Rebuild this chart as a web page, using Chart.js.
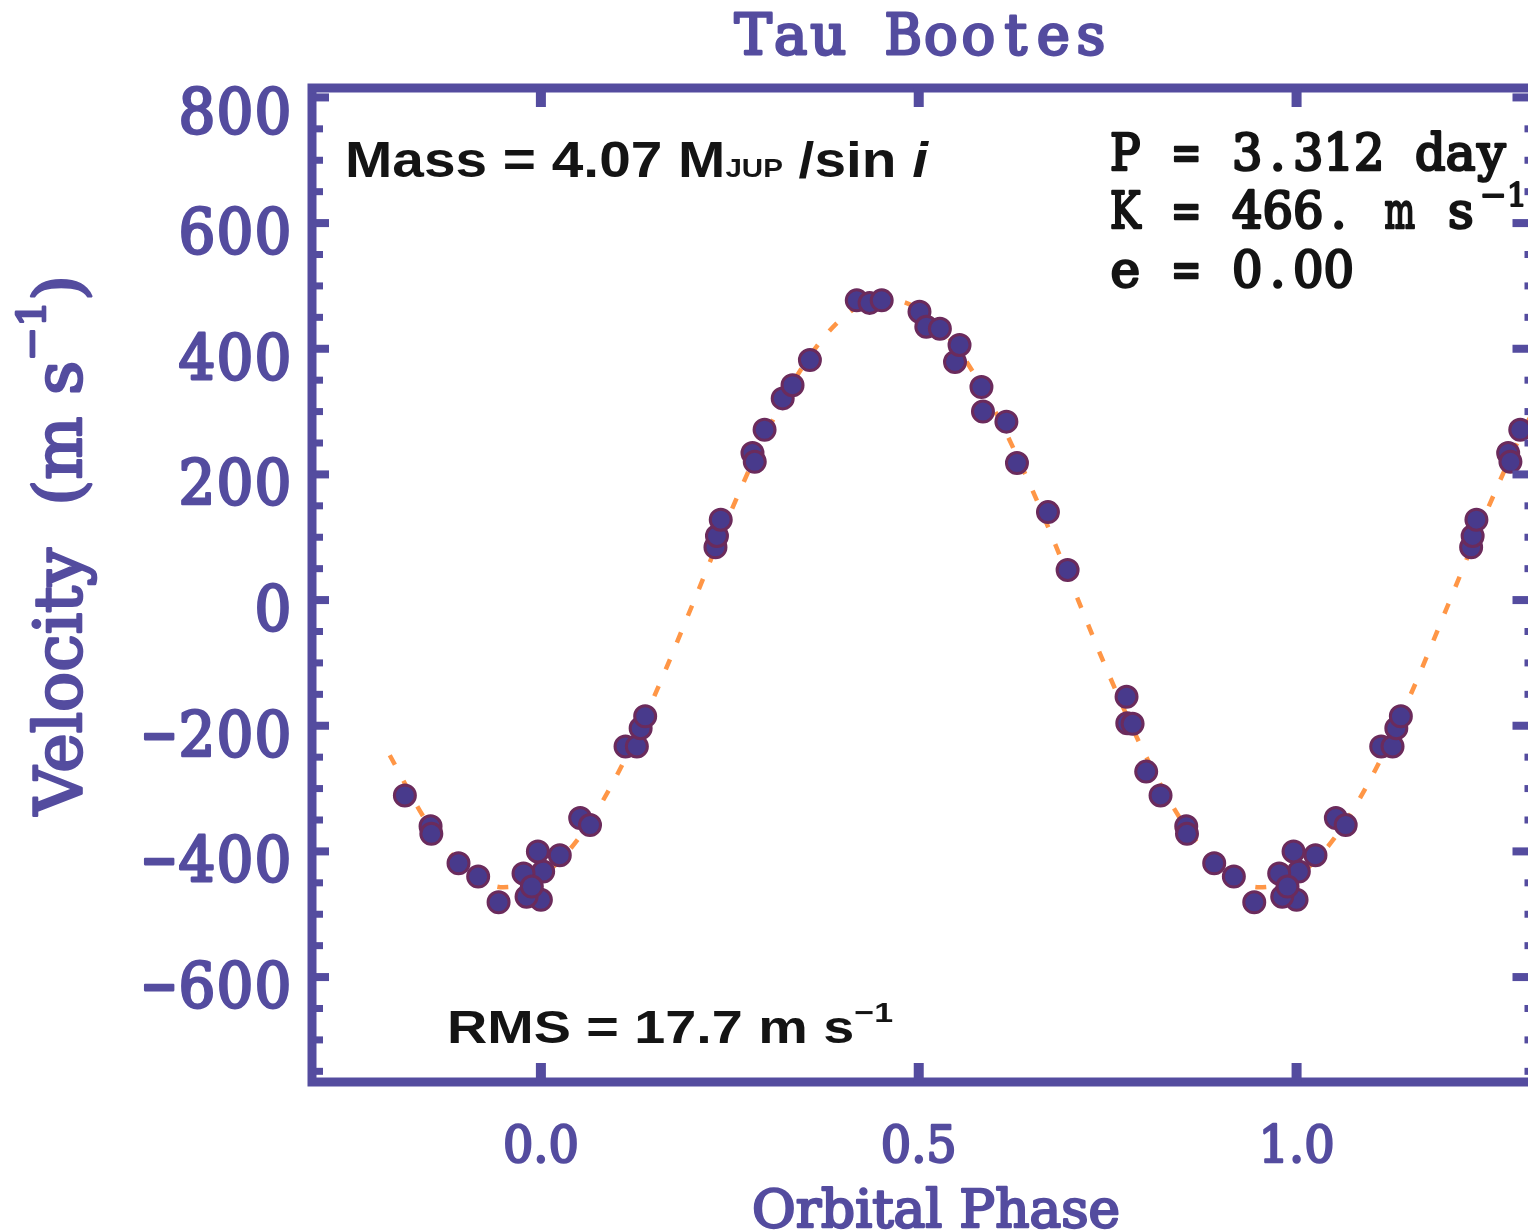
<!DOCTYPE html>
<html><head><meta charset="utf-8">
<script src="https://cdn.jsdelivr.net/npm/chart.js@4.4.1/dist/chart.umd.min.js"></script>
<style>
html,body{margin:0;padding:0;background:#fff;overflow:hidden;width:1528px;height:1231px}
#wrap{position:relative;width:1528px;height:1231px;overflow:hidden;background:#fff}
canvas{position:absolute;left:0;top:0}
</style></head><body><div id="wrap"><canvas id="c" width="1550" height="1231"></canvas></div>
<script>
// ---- data ----
const basePhases = [0.000,0.003,0.025,0.052,0.065,0.112,0.127,0.132,0.138,0.231,0.233,0.238,0.280,0.283,0.296,0.320,0.333,0.356,0.418,0.435,0.451,0.501,0.510,0.528,0.548,0.554,0.583,0.585,0.616,0.630,0.671,0.697,0.775,0.776,0.783,0.801,0.820,0.854,0.855,0.891,0.917,0.944,0.977,0.981,0.988,0.996];
const baseVelocities = [-477,-432,-406,-347,-358,-233,-233,-204,-185,84,102,128,234,220,271,321,342,382,477,473,477,459,435,432,379,406,339,300,284,218,140,48,-154,-196,-197,-273,-311,-360,-372,-419,-440,-481,-435,-472,-456,-400];
const fitPhases = [-0.20,-0.15,-0.10,-0.05,0.00,0.05,0.10,0.15,0.20,0.25,0.30,0.35,0.40,0.45,0.50,0.55,0.60,0.65,0.70,0.75,0.80,0.85,0.90,0.95,1.00,1.05,1.10,1.15,1.20,1.25,1.30,1.35];
const fitVelocities = [-247,-355,-427,-457,-440,-379,-280,-153,-9,137,270,378,450,480,463,402,303,176,32,-114,-247,-355,-427,-457,-440,-379,-280,-153,-9,137,270,378];
const yMajorTicks = [-600,-400,-200,0,200,400,600,800];
const yTickLabels = ['\u2212600','\u2212400','\u2212200','0','200','400','600','800'];
const yMinorTicks = [-750,-700,-650,-550,-500,-450,-350,-300,-250,-150,-100,-50,50,100,150,250,300,350,450,500,550,650,700,750];
const xMajorTicks = [0.0,0.5,1.0];
const xTickLabels = ['0.0','0.5','1.0'];
const titleText = 'Tau Bootes';
const xTitle = 'Orbital Phase';
const plotRange = {xMin:-0.19, xMax:1.31};

// phase-folded points repeated over the plotted phase range
const pts = [];
basePhases.forEach((p,i)=>{
  [p-1,p,p+1].forEach(q=>{ if(q>=plotRange.xMin && q<=plotRange.xMax) pts.push({x:q,y:baseVelocities[i]}); });
});
const fit = fitPhases.map((p,i)=>({x:p,y:fitVelocities[i]}));

const PURPLE = '#544c9f';
const BLACK = '#141414';
const SERIF = '"DejaVu Serif"';

function fontStr(s,o){ return (s.style||o.style||'normal')+' '+(s.weight||o.weight||'normal')+' '+(s.size||o.size)+'px '+o.family; }
function drawRich(ctx, segs, x, y, o){
  ctx.save();
  ctx.fillStyle = o.color; ctx.strokeStyle=o.color; ctx.textBaseline='alphabetic'; ctx.textAlign='left'; ctx.lineJoin='round';
  let total=0;
  const ws = segs.map(s=>{ctx.font=fontStr(s,o); const w=ctx.measureText(s.t).width; total+=w; return w;});
  const sx = o.width ? o.width/total : (o.sx||1);
  const sy = o.sy||1;
  ctx.translate(x,y);
  if(o.rot) ctx.rotate(o.rot);
  ctx.scale(sx,sy);
  let cx = o.align==='center' ? -total/2 : (o.align==='right' ? -total : 0);
  segs.forEach((s,i)=>{ ctx.font=fontStr(s,o); const yy=(s.dy||0)/sy; ctx.fillText(s.t,cx,yy); if(o.stroke){ctx.lineWidth=o.stroke;ctx.strokeText(s.t,cx,yy);} cx+=ws[i]; });
  ctx.restore();
  return total*sx;
}
// monospace-style drawing: every glyph centred in a fixed cell
function drawMono(ctx, text, x, y, o){
  const chars=[...text];
  const n=chars.length, cell=o.cell;
  let x0 = o.align==='center' ? x-n*cell/2 : (o.align==='right' ? x-n*cell : x);
  ctx.save();
  ctx.fillStyle=o.color; ctx.strokeStyle=o.color; ctx.textBaseline='alphabetic'; ctx.textAlign='left'; ctx.lineJoin='round';
  ctx.font=fontStr({},o);
  chars.forEach((c,i)=>{
    if(c===' ') return;
    const w=ctx.measureText(c).width;
    const lim=cell*(o.fill||0.96);
    const sx = w>lim ? lim/w : 1;
    ctx.save();
    ctx.translate(x0+i*cell+cell/2, y);
    ctx.scale(sx, o.sy||1);
    ctx.fillText(c,-w/2,0);
    if(o.stroke){ctx.lineWidth=o.stroke;ctx.strokeText(c,-w/2,0);}
    ctx.restore();
  });
  ctx.restore();
  return x0+n*cell;
}

const decor = {
  id:'decor',
  afterDatasetsDraw(chart){
    const ctx=chart.ctx, a=chart.chartArea, xs=chart.scales.x, ys=chart.scales.y;
    ctx.save();
    ctx.strokeStyle=PURPLE; ctx.fillStyle=PURPLE;
    ctx.lineWidth=9;
    ctx.strokeRect(a.left,a.top,a.right-a.left,a.bottom-a.top);
    yMajorTicks.forEach(v=>{const y=ys.getPixelForValue(v); ctx.fillRect(a.left,y-4,17,8); ctx.fillRect(a.right-24,y-4,24,8);});
    yMinorTicks.forEach(v=>{const y=ys.getPixelForValue(v); ctx.fillRect(a.left,y-3.5,11,7); ctx.fillRect(a.right-12,y-3.5,12,7);});
    xMajorTicks.forEach(v=>{const x=xs.getPixelForValue(v); ctx.fillRect(x-5,a.top,10,19); ctx.fillRect(x-5,a.bottom-19,10,19);});
    ctx.restore();
    // tick labels
    yMajorTicks.forEach((v,i)=>{
      const y=ys.getPixelForValue(v);
      drawMono(ctx,yTickLabels[i],292,y+(v===800?36:30),{family:SERIF,weight:'normal',size:58,color:PURPLE,align:'right',cell:38,sy:1.07,stroke:2.6,fill:1.0});
    });
    xMajorTicks.forEach((v,i)=>{
      const x=xs.getPixelForValue(v);
      drawRich(ctx,[{t:xTickLabels[i]}],x,1162,{family:SERIF,weight:'normal',size:51,color:PURPLE,align:'center',width:76,stroke:2.4});
    });
    // titles
    drawMono(ctx,titleText,922,54,{family:SERIF,weight:'normal',size:56,color:PURPLE,align:'center',cell:37.5,sy:1.0,stroke:2.8,fill:1.0});
    drawRich(ctx,[{t:xTitle}],936,1227,{family:SERIF,weight:'normal',size:52,color:PURPLE,align:'center',width:368,stroke:2.4});
    drawRich(ctx,[{t:'Velocity  (m s'},{t:'\u22121',size:40,dy:-36},{t:')'}],81,815,{family:SERIF,weight:'normal',size:66,color:PURPLE,align:'left',width:540,rot:-Math.PI/2,stroke:2.6});
    // annotations
    drawRich(ctx,[{t:'Mass = 4.07 M'},{t:'JUP',size:26},{t:' /sin '},{t:'i',style:'italic'}],345,177,{family:'"Liberation Sans"',weight:'bold',size:50,color:BLACK,align:'left',width:583});
    const mono={family:SERIF,weight:'normal',size:50,color:BLACK,align:'left',cell:30.5,sy:1.02,stroke:2.6,fill:1.0};
    drawMono(ctx,'P = 3.312 day',1110,170,mono);
    const kEnd = drawMono(ctx,'K = 466. m s',1110,228,mono);
    drawRich(ctx,[{t:'\u22121'}],kEnd+4,206,{family:SERIF,weight:'normal',size:32,color:BLACK,align:'left',stroke:1.8});
    drawMono(ctx,'e = 0.00',1110,287,mono);
    drawRich(ctx,[{t:'RMS = 17.7 m s'},{t:'\u22121',size:28,dy:-21}],447,1043,{family:'"Liberation Sans"',weight:'bold',size:46,color:BLACK,align:'left',width:446});
  }
};

new Chart(document.getElementById('c'),{
  type:'scatter',
  data:{datasets:[
    {type:'line',data:fit,borderColor:'#ff9646',borderWidth:4.5,borderDash:[11,18],pointRadius:0,fill:false,cubicInterpolationMode:'monotone',order:2},
    {type:'scatter',data:pts,pointRadius:10.5,pointHoverRadius:10.5,backgroundColor:'#483a8c',borderColor:'#6b2b5c',borderWidth:3,order:1}
  ]},
  options:{
    responsive:false,animation:false,devicePixelRatio:1,
    layout:{padding:{left:312,top:88,right:13,bottom:149}},
    scales:{
      x:{type:'linear',display:false,min:-0.3029,max:1.3175},
      y:{type:'linear',display:false,min:-767,max:815}
    },
    plugins:{legend:{display:false},tooltip:{enabled:false},title:{display:false}}
  },
  plugins:[decor]
});
</script></body></html>
